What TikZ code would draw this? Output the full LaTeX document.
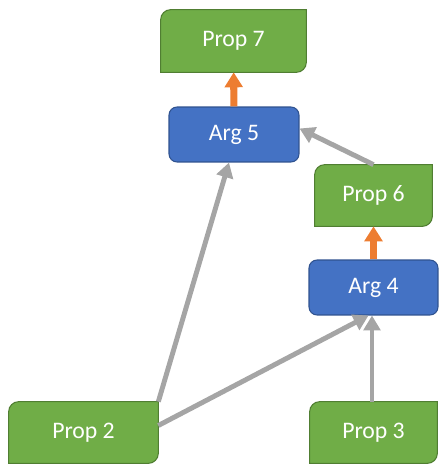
\documentclass[tikz,border=0pt]{standalone}
\usepackage{fontspec}
\setmainfont{Carlito}
\usetikzlibrary{arrows.meta,backgrounds}

\definecolor{propgreen}{HTML}{70AD47}
\definecolor{propedge}{HTML}{507E32}
\definecolor{argblue}{HTML}{4472C4}
\definecolor{argedge}{HTML}{2F528F}
\definecolor{supgray}{HTML}{A5A5A5}
\definecolor{concorange}{HTML}{ED7D31}

% green box, rounded only at top left and bottom right
\newcommand{\propshape}[1]{%
  \filldraw[propbody] ([yshift=-0.2cm]#1.north west) arc[start angle=180,end angle=90,radius=0.2cm]
    -- (#1.north east) -- ([yshift=0.2cm]#1.south east) arc[start angle=0,end angle=-90,radius=0.2cm]
    -- (#1.south west) -- cycle;}

\begin{document}
\begin{tikzpicture}[x=0.02cm, y=-0.02cm,
  prop/.style={inner sep=0pt, text=white, font=\fontsize{13.5pt}{16pt}\selectfont},
  propbody/.style={fill=propgreen, draw=propedge, line width=0.6pt},
  arg/.style={draw=argedge, fill=argblue, line width=0.6pt, rounded corners=0.16cm, inner sep=0pt,
    minimum width=2.6cm, minimum height=1.1cm, text=white, font=\fontsize{13.5pt}{16pt}\selectfont},
  support/.style={draw=supgray, line width=2.8pt, -{Triangle[width=9.5pt,length=8.5pt]}},
  conclude/.style={draw=concorange, line width=4pt, -{Triangle[width=10pt,length=8.5pt]}}]

\useasboundingbox (0,0) rectangle (448,473);

\node[prop, minimum width=2.9cm, minimum height=1.24cm] (p7) at (233.5,41) {Prop 7};
\node[arg] (a5) at (234,134.5) {Arg 5};
\node[prop, minimum width=2.34cm, minimum height=1.22cm] (p6) at (373.5,195.5) {Prop 6};
\node[arg, minimum width=2.58cm] (a4) at (373.5,287.5) {Arg 4};
\node[prop, minimum width=2.98cm, minimum height=1.22cm] (p2) at (83.5,432.5) {Prop 2};
\node[prop, minimum width=2.54cm, minimum height=1.22cm] (p3) at (373.5,432.5) {Prop 3};

\begin{scope}[on background layer]
\propshape{p7}
\propshape{p6}
\propshape{p2}
\propshape{p3}
\end{scope}

\draw[conclude] (a5) -- (p7);
\draw[conclude] (a4) -- (p6);

\draw[support] (p2.north east) -- ([xshift=-0.1cm]a5.south);
\draw[support] ([yshift=0.14cm]p2.east) -- ([xshift=-0.1cm]a4.south);
\draw[support] ([xshift=-0.03cm]p3.north) -- ([xshift=-0.03cm]a4.south);
\draw[support] (p6.north) -- ([yshift=0.12cm]a5.east);

\end{tikzpicture}
\end{document}
